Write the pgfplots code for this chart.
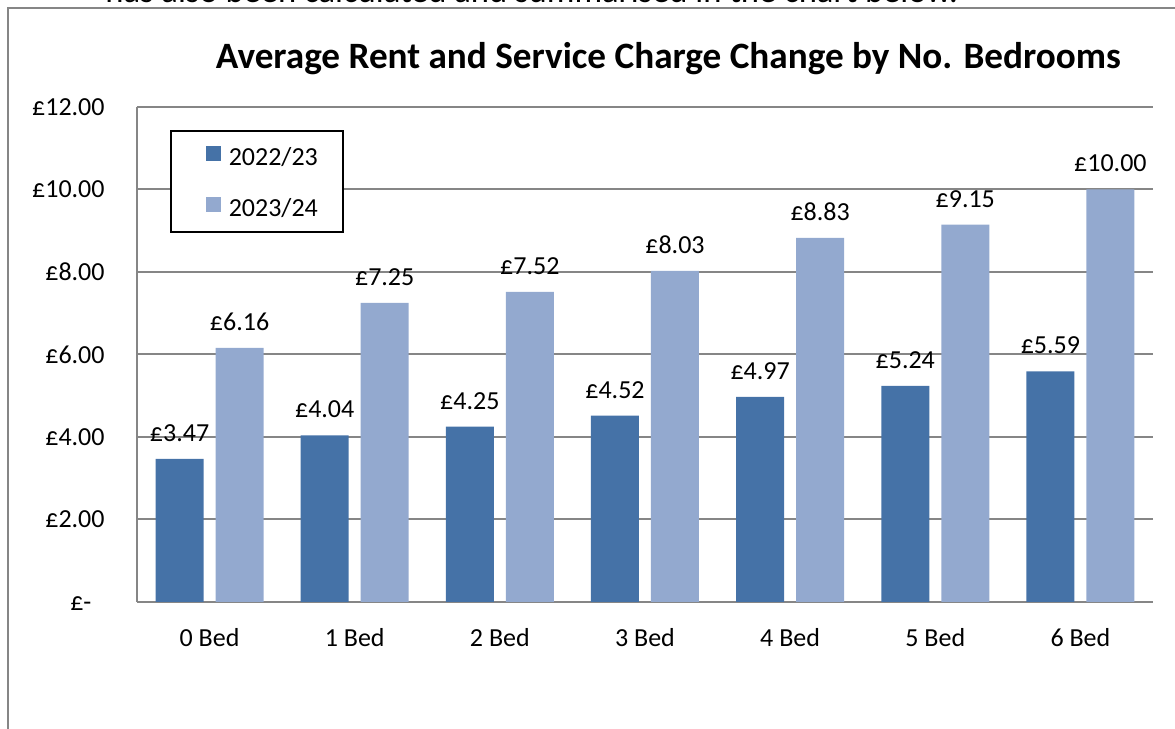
\documentclass[border=0pt]{standalone}
\usepackage{pgfplots}
\pgfplotsset{compat=1.18}
\usepackage{fontspec}
\setmainfont{Carlito}
\definecolor{cA}{HTML}{4572A7}
\definecolor{cB}{HTML}{93A9CF}
\definecolor{gridc}{HTML}{868686}
\begin{document}
\begin{tikzpicture}
\useasboundingbox (0,0) rectangle (587.5pt,364.5pt);
\clip (0,0) rectangle (587.5pt,364.5pt);
\draw[gridc, line width=1pt] (3.75pt,-5pt) -- (3.75pt,360.5pt) -- (600pt,360.5pt);
\node[anchor=base west, inner sep=0pt, font=\fontsize{17.3}{20}\selectfont] at (52.5pt,363.3pt) {has also been calculated and summarised in the chart below.};
\begin{axis}[
  at={(68.5pt,63.5pt)}, anchor=south west,
  scale only axis, width=508pt, height=247.5pt,
  xmin=-0.5, xmax=6.5, ymin=0, ymax=12,
  ybar, bar width=24pt,
  xtick={0,1,2,3,4,5,6},
  xticklabels={0 Bed,1 Bed,2 Bed,3 Bed,4 Bed,5 Bed,6 Bed},
  ytick={0,2,4,6,8,10,12},
  yticklabels={£-\phantom{0},£2.00,£4.00,£6.00,£8.00,£10.00,£12.00},
  axis x line*=bottom, axis y line*=left,
  axis line style={-, draw=gridc, line width=1pt},
  tick style={draw=none}, major tick length=0pt,
  ymajorgrids, grid style={draw=gridc, line width=1pt},
  ticklabel style={font=\fontsize{13}{15}\selectfont},
  yticklabel style={anchor=east, inner sep=0pt, xshift=-16pt},
  xticklabel style={anchor=base, inner sep=0pt, yshift=-22.5pt},
  /pgf/number format/assume math mode=true,
  every axis title shift=0pt,
  title={Average Rent and Service Charge Change by No. Bedrooms},
  title style={font=\bfseries\fontsize{18.6}{22}\selectfont, at={(0.5231,1.0778)}, anchor=base, inner sep=0pt},
  legend style={at={(0.0325,0.9535)}, anchor=north west, draw=black, line width=0.75pt, fill=white,
    inner xsep=12.5pt, inner ysep=7.75pt, row sep=15.5pt,
    font=\fontsize{13}{15}\selectfont, text height=8.5pt, text depth=0pt,
    nodes={inner sep=0pt, text height=8.5pt, text depth=0pt}},
  /tikz/every odd column/.append style={column sep=4pt},
  legend image code/.code={\path (0pt,0pt); \fill[#1] (5pt,-2pt) rectangle (12.5pt,5.5pt);},
  nodes near coords={£\pgfmathprintnumber[fixed,fixed zerofill,precision=2]{\pgfplotspointmeta}},
  nodes near coords style={font=\fontsize{13}{15}\selectfont, anchor=base, yshift=8.75pt, inner sep=0pt, text=black},
  point meta=y,
]
\addplot[bar shift=-15pt, fill=cA, draw=none] coordinates {(0,3.47) (1,4.04) (2,4.25) (3,4.52) (4,4.97) (5,5.24) (6,5.59)};
\addplot[bar shift=15pt, fill=cB, draw=none] coordinates {(0,6.16) (1,7.25) (2,7.52) (3,8.03) (4,8.83) (5,9.15) (6,10.00)};
\legend{2022/23,2023/24}
\end{axis}
\end{tikzpicture}
\end{document}
